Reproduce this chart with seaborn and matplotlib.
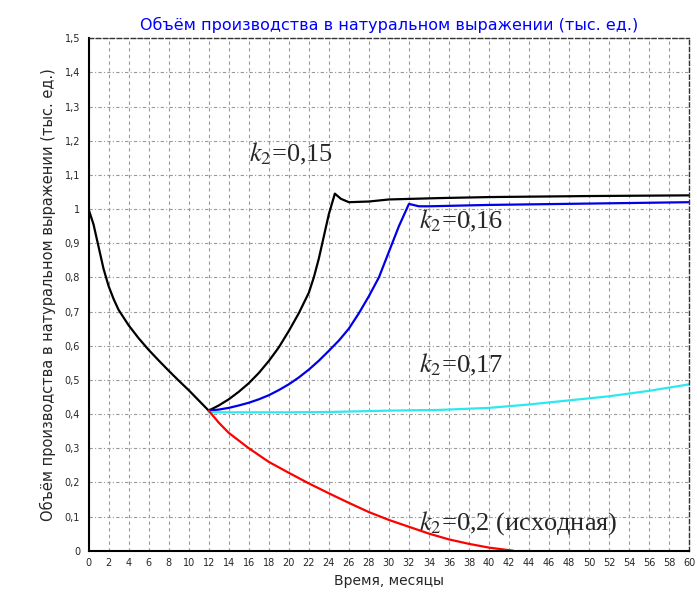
import matplotlib
matplotlib.use('Agg')
import matplotlib.pyplot as plt
import seaborn as sns
import pandas as pd
from matplotlib.ticker import MultipleLocator, FuncFormatter

# k2 = 0,15 (black)
m_015 = [0, 0.5, 1, 1.5, 2, 2.5, 3, 4, 5, 6, 7, 8, 9, 10, 11, 12,
         13, 14, 15, 16, 17, 18, 19, 20, 21, 22, 22.5, 23, 23.5, 24, 24.6, 25.2, 26,
         28, 30, 35, 40, 50, 60]
v_015 = [1.0, 0.955, 0.89, 0.825, 0.775, 0.737, 0.705, 0.66, 0.622, 0.588, 0.557, 0.527,
         0.498, 0.47, 0.44, 0.41,
         0.425, 0.443, 0.465, 0.49, 0.52, 0.555, 0.595, 0.643, 0.695, 0.755, 0.8, 0.855,
         0.92, 0.985, 1.045, 1.03, 1.02, 1.022, 1.028, 1.032, 1.035, 1.038, 1.04]

# k2 = 0,16 (blue)
m_016 = [12, 13, 14, 15, 16, 17, 18, 19, 20, 21, 22, 23, 24, 25, 26, 27, 28, 29,
         30, 31, 32, 33, 34, 40, 50, 60]
v_016 = [0.41, 0.413, 0.418, 0.425, 0.433, 0.443, 0.455, 0.47, 0.487, 0.507, 0.53,
         0.556, 0.585, 0.615, 0.65, 0.695, 0.745, 0.80, 0.875, 0.95, 1.015, 1.008,
         1.008, 1.012, 1.016, 1.02]

# k2 = 0,17 (cyan)
m_017 = [12, 20, 24, 30, 35, 40, 44, 48, 52, 56, 60]
v_017 = [0.405, 0.405, 0.406, 0.41, 0.412, 0.418, 0.428, 0.44, 0.452, 0.468, 0.487]

# k2 = 0,2 (red, исходная)
m_020 = [12, 13, 14, 16, 18, 20, 22, 24, 26, 28, 30, 32, 34, 36, 38, 40, 42.4]
v_020 = [0.41, 0.375, 0.345, 0.30, 0.26, 0.228, 0.197, 0.168, 0.14, 0.113, 0.09,
         0.07, 0.05, 0.033, 0.02, 0.009, 0.0]

labels = ['0,15', '0,16', '0,17', '0,2 (исходная)']
colors = ['black', '#0000e6', '#2ee8f0', '#ff0000']

sns.set_style('white')
plt.rcParams['font.family'] = ['DejaVu Sans']
plt.rcParams['mathtext.fontset'] = 'stix'

fig = plt.figure(figsize=(6.97, 6.16), dpi=100)
ax = fig.add_axes([0.127, 0.106, 0.862, 0.832])

series = [(m_015, v_015), (m_016, v_016), (m_017, v_017), (m_020, v_020)]
for (m, v), c in zip(series, colors):
    df = pd.DataFrame({'month': m, 'value': v})
    sns.lineplot(data=df, x='month', y='value', color=c, linewidth=1.6, ax=ax)

ax.set_xlim(0, 60)
ax.set_ylim(0, 1.5)
ax.xaxis.set_major_locator(MultipleLocator(2))
ax.xaxis.set_minor_locator(MultipleLocator(1))
ax.yaxis.set_major_locator(MultipleLocator(0.1))

def yfmt(v, pos):
    s = f'{v:.1f}'.replace('.', ',')
    return s[:-2] if s.endswith(',0') else s

ax.yaxis.set_major_formatter(FuncFormatter(yfmt))
ax.tick_params(axis='both', which='major', labelsize=7, direction='inout', length=5, width=0.8)
ax.tick_params(axis='x', which='minor', direction='inout', length=3, width=0.6)
ax.tick_params(axis='x', pad=3)

ax.grid(True, axis='x', which='major', color='#999999', linestyle=(0, (3, 3)), linewidth=0.8)
ax.grid(True, axis='y', which='major', color='#999999', linestyle=(0, (3, 2, 1, 2)), linewidth=0.8)

for side in ['left', 'bottom']:
    ax.spines[side].set_color('black')
    ax.spines[side].set_linewidth(1.5)
for side in ['top', 'right']:
    ax.spines[side].set_color('#333333')
    ax.spines[side].set_linewidth(1.0)
    ax.spines[side].set_linestyle((0, (3, 2)))

ax.set_title('Объём производства в натуральном выражении (тыс. ед.)',
             color='#0000ff', fontsize=11.5, pad=6)
ax.set_xlabel('Время, месяцы', fontsize=10, labelpad=4)
ax.set_ylabel('Объём производства в натуральном выражении (тыс. ед.)', fontsize=10.5,
              labelpad=6)

txt_pos = [(16, 1.16), (33, 0.965), (33, 0.545), (33, 0.08)]
for (x, y), lab in zip(txt_pos, labels):
    ax.text(x, y, r'$k_{\mathit{2}}$=' + lab, fontsize=19, family=['Liberation Serif'],
            va='center', ha='left')

fig.savefig('out.png', dpi=100)
